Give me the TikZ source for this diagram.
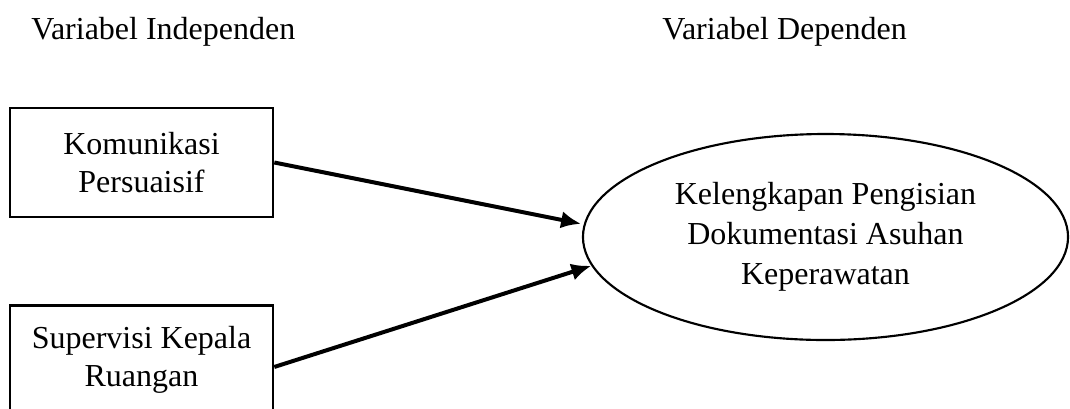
\documentclass[tikz,border=0pt]{standalone}
\usepackage{fontspec}
\setmainfont{Liberation Serif}
\usetikzlibrary{arrows.meta, positioning, shapes.geometric}

\begin{document}
\begin{tikzpicture}[x=0.375pt, y=-0.375pt, font=\fontsize{12}{14.3}\selectfont,
  var/.style={draw, rectangle, line width=1pt, minimum width=98.6pt, minimum height=40.9pt, align=center},
  dep/.style={draw, ellipse, line width=0.8pt, minimum width=181.9pt, minimum height=77.25pt, inner sep=0pt, align=center, font=\fontsize{12}{15}\selectfont},
  arr/.style={-{Latex[length=7.5pt, width=6.5pt]}, line width=1.5pt}]

  \useasboundingbox (0,0) rectangle (1070,408);

  \node[anchor=base west] (lx) at (22,39) {Variabel Independen};
  \node[anchor=base west] (ly) at (653,39) {Variabel Dependen};

  \node[var] (x1) at (141.5,162.5) {Komunikasi\\Persuaisif};
  \node[var] (x2) at (141.5,360) {Supervisi Kepala\\Ruangan};
  \node[dep] (y) at (825.5,237) {Kelengkapan Pengisian\\Dokumentasi Asuhan\\Keperawatan};

  \draw[arr, shorten >=1pt] (x1.east) -- (y.177);
  \draw[arr] (x2.-3) -- (y.187);

\end{tikzpicture}
\end{document}
